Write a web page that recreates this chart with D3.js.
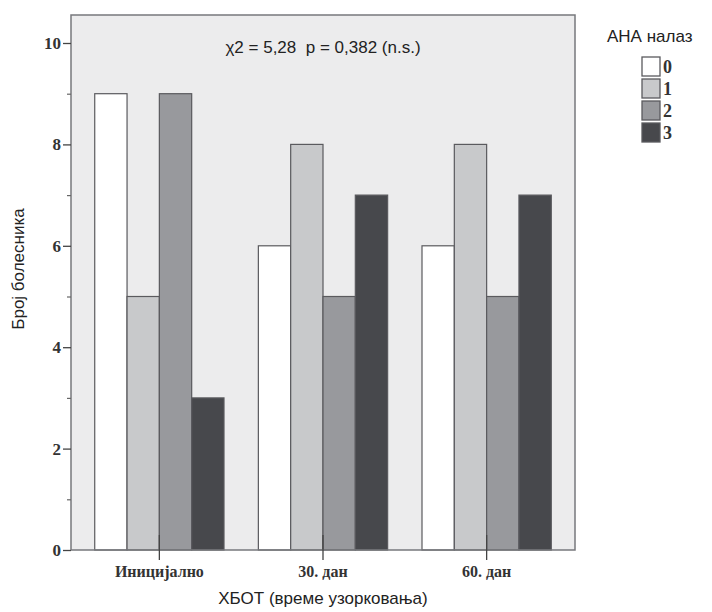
<!DOCTYPE html>
<html>
<head>
<meta charset="utf-8">
<script src="https://cdn.jsdelivr.net/npm/d3@7"></script>
<style>
body { margin: 0; background: #fff; }
</style>
</head>
<body>
<svg id="chart" width="712" height="612"></svg>
<script>
// data
var categories = ["Иницијално", "30. дан", "60. дан"];
var series = ["0", "1", "2", "3"];
var values = [
    [9, 5, 9, 3],   // Иницијално
    [6, 8, 5, 7],   // 30. дан
    [6, 8, 5, 7]    // 60. дан
];
var yTicks = [0, 2, 4, 6, 8, 10];
var yMinorTicks = [1, 3, 5, 7, 9];
var colors = ["#ffffff", "#c8c9cb", "#98999d", "#47484c"];

var svg = d3.select("#chart");

// plot frame (plotTop: "top" clashes with window.top)
var plotLeft = 71, plotRight = 575, plotTop = 15, plotBottom = 550;

var y = d3.scaleLinear([0, 10], [plotBottom, 43]);
var x = d3.scaleBand(categories, [plotLeft, plotRight]).paddingInner(0.21).paddingOuter(0.145);
var xs = d3.scaleBand(series, [0, x.bandwidth()]);
var color = d3.scaleOrdinal(series, colors);

svg.append("rect")
    .attr("x", plotLeft).attr("y", plotTop)
    .attr("width", plotRight - plotLeft).attr("height", plotBottom - plotTop)
    .attr("fill", "#ececed");

// bars
svg.append("g")
    .selectAll("g")
    .data(values)
    .enter()
    .append("g")
    .attr("transform", (d, i) => "translate(" + x(categories[i]) + ",0)")
    .selectAll("rect")
    .data(d => d)
    .enter()
    .append("rect")
    .attr("x", (d, j) => xs(series[j]))
    .attr("y", d => y(d))
    .attr("width", xs.bandwidth())
    .attr("height", d => plotBottom - y(d))
    .attr("fill", (d, j) => color(series[j]))
    .attr("stroke", "#5a5a5e")
    .attr("stroke-width", 1.2);

// frame border
svg.append("rect")
    .attr("x", plotLeft).attr("y", plotTop)
    .attr("width", plotRight - plotLeft).attr("height", plotBottom - plotTop)
    .attr("fill", "none")
    .attr("stroke", "#77787c")
    .attr("stroke-width", 1.5);

// y axis
var yAxis = d3.axisLeft(y).tickValues(yTicks).tickSize(8).tickPadding(2);
var gy = svg.append("g")
    .attr("transform", "translate(" + plotLeft + ",0)")
    .call(yAxis);
gy.select(".domain").remove();
gy.selectAll("line").attr("stroke", "#444").attr("stroke-width", 1.3);
gy.selectAll("text")
    .attr("font-family", "Liberation Serif")
    .attr("font-weight", "bold")
    .attr("font-size", 17)
    .attr("fill", "#333");

var gyMinor = svg.append("g")
    .attr("transform", "translate(" + plotLeft + ",0)")
    .call(d3.axisLeft(y).tickValues(yMinorTicks).tickSize(4).tickFormat(""));
gyMinor.select(".domain").remove();
gyMinor.selectAll("line").attr("stroke", "#666").attr("stroke-width", 1.2);

// x axis
var xAxis = d3.axisBottom(x).tickSize(10).tickPadding(6);
var gx = svg.append("g")
    .attr("transform", "translate(0," + plotBottom + ")")
    .call(xAxis);
gx.select(".domain").remove();
gx.selectAll("line").attr("stroke", "#444").attr("stroke-width", 1.3).attr("y1", -15);
gx.selectAll("text")
    .attr("font-family", "Liberation Serif")
    .attr("font-weight", "bold")
    .attr("font-size", 16)
    .attr("fill", "#333");

// axis titles
svg.append("text")
    .attr("x", (plotLeft + plotRight) / 2)
    .attr("y", 604)
    .attr("text-anchor", "middle")
    .attr("font-family", "Liberation Sans")
    .attr("font-size", 17)
    .attr("fill", "#222")
    .text("ХБОТ (време узорковања)");

svg.append("text")
    .attr("transform", "translate(24," + 269 + ") rotate(-90)")
    .attr("text-anchor", "middle")
    .attr("font-family", "Liberation Sans")
    .attr("font-size", 17)
    .attr("fill", "#222")
    .text("Број болесника");

// statistic note
svg.append("text")
    .attr("x", (plotLeft + plotRight) / 2)
    .attr("y", 53)
    .attr("text-anchor", "middle")
    .attr("font-family", "Liberation Sans")
    .attr("font-size", 17)
    .attr("fill", "#222")
    .text("χ2 = 5,28\u00a0\u00a0p = 0,382 (n.s.)");

// legend
svg.append("text")
    .attr("x", 607)
    .attr("y", 42)
    .attr("font-family", "Liberation Sans")
    .attr("font-size", 17)
    .attr("fill", "#222")
    .text("АНА налаз");

var legend = svg.append("g")
    .selectAll("g")
    .data(series)
    .enter()
    .append("g")
    .attr("transform", (d, i) => "translate(642," + (57 + i * 22) + ")");

legend.append("rect")
    .attr("width", 18).attr("height", 19)
    .attr("fill", d => color(d))
    .attr("stroke", "#5a5a5e")
    .attr("stroke-width", 1.3);

legend.append("text")
    .attr("x", 21).attr("y", 16)
    .attr("font-family", "Liberation Serif")
    .attr("font-weight", "bold")
    .attr("font-size", 18)
    .attr("fill", "#333")
    .text(d => d);
</script>
</body>
</html>
